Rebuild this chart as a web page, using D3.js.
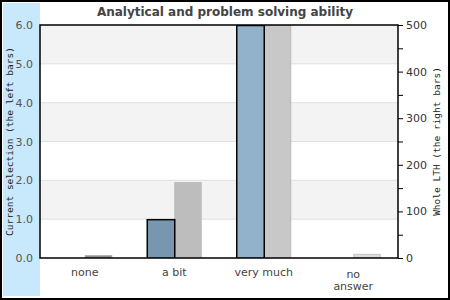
<!DOCTYPE html>
<html>
<head>
<meta charset="utf-8">
<script src="https://cdn.jsdelivr.net/npm/d3@7"></script>
<style>
  body { margin: 0; background: #fff; }
  svg { display: block; }
</style>
</head>
<body>
<div id="chart"></div>
<script>
// Data
var categories = ["none", "a bit", "very much", "no answer"];
var catLabels = [["none"], ["a bit"], ["very much"], ["no", "answer"]];
var currentValues = [0, 1, 6, 0];        // left bars, left axis
var lthValues = [6, 163, 500, 9];         // right bars, right axis
var leftTicks = [0, 1, 2, 3, 4, 5, 6];
var rightTicks = [0, 100, 200, 300, 400, 500];
var rightMinor = [50, 150, 250, 350, 450];

var leftColors = ["#7796b0", "#7796b0", "#92b2cc", "#92b2cc"];
var rightColors = ["#8a8a8a", "#bdbdbd", "#c8c8c8", "#dcdcdc"];
var rightStroke = ["#a8a8a8", "#bdbdbd", "#b8b8b8", "#c4c4c4"];

var W = 450, H = 300;
var margin = {top: 25, right: 52, bottom: 42, left: 40},
    width = W - margin.left - margin.right,
    height = H - margin.top - margin.bottom;

var svg = d3.select("#chart").append("svg")
    .attr("width", W)
    .attr("height", H);

// outer frame and blue strip
svg.append("rect")
    .attr("x", 3).attr("y", 3)
    .attr("width", 37).attr("height", 293)
    .attr("fill", "#c8e8fc");
svg.append("rect")
    .attr("x", 1).attr("y", 1)
    .attr("width", W - 2).attr("height", H - 2)
    .attr("fill", "none")
    .attr("stroke", "#000")
    .attr("stroke-width", 2);

// title
svg.append("text")
    .attr("x", 225).attr("y", 16)
    .attr("text-anchor", "middle")
    .attr("font-family", "DejaVu Sans")
    .attr("font-weight", "bold")
    .attr("font-size", "12px")
    .attr("fill", "#444")
    .text("Analytical and problem solving ability");

var g = svg.append("g")
    .attr("transform", "translate(" + margin.left + "," + margin.top + ")");

// scales
var x = d3.scaleBand()
    .domain(categories)
    .range([0, width]);
var yL = d3.scaleLinear().domain([0, 6]).range([height, 0]);
var yR = d3.scaleLinear().domain([0, 500]).range([height, 0]);
var barW = 27.5;

// alternating bands
g.selectAll(".band")
    .data(leftTicks.slice(0, -1))
    .enter().append("rect")
    .attr("x", 0)
    .attr("width", width)
    .attr("y", function(d) { return yL(d + 1); })
    .attr("height", function(d) { return yL(d) - yL(d + 1); })
    .attr("fill", function(d) { return d % 2 === 0 ? "#fff" : "#f3f3f3"; });

// gridlines
g.selectAll(".grid")
    .data(leftTicks.slice(1, -1))
    .enter().append("line")
    .attr("x1", 0).attr("x2", width)
    .attr("y1", function(d) { return yL(d); })
    .attr("y2", function(d) { return yL(d); })
    .attr("stroke", "#e0e0e0");

// clip for bars
svg.append("clipPath").attr("id", "plotclip")
  .append("rect").attr("width", width).attr("height", height);

var bars = g.append("g").attr("clip-path", "url(#plotclip)");

// right bars (whole LTH)
bars.selectAll(".rbar")
    .data(lthValues)
    .enter().append("rect")
    .attr("x", function(d, i) { return x(categories[i]) + x.bandwidth() / 2 + 0.5; })
    .attr("width", barW - 1)
    .attr("y", function(d) { return yR(d) + 0.5; })
    .attr("height", function(d) { return Math.max(0, height - yR(d) - 0.5); })
    .attr("fill", function(d, i) { return rightColors[i]; })
    .attr("stroke", function(d, i) { return rightStroke[i]; })
    .attr("stroke-width", 1);

// left bars (current selection)
bars.selectAll(".lbar")
    .data(currentValues.map(function(v, i) { return {v: v, i: i}; }).filter(function(d) { return d.v > 0; }))
    .enter().append("rect")
    .attr("x", function(d) { return x(categories[d.i]) + x.bandwidth() / 2 - barW + 0.5; })
    .attr("width", barW)
    .attr("y", function(d) { return yL(d.v) + 0.5; })
    .attr("height", function(d) { return height - yL(d.v); })
    .attr("fill", function(d) { return leftColors[d.i]; })
    .attr("stroke", "#000")
    .attr("stroke-width", 1.5);

// plot frame
g.append("rect")
    .attr("width", width).attr("height", height)
    .attr("fill", "none")
    .attr("stroke", "#000")
    .attr("stroke-width", 1.5);

// left axis labels
g.selectAll(".ltick")
    .data(leftTicks)
    .enter().append("text")
    .attr("x", -7)
    .attr("y", function(d) { return yL(d) + 4; })
    .attr("text-anchor", "end")
    .attr("font-family", "DejaVu Sans")
    .attr("font-size", "11px")
    .attr("fill", "#555")
    .text(d3.format(".1f"));

// right axis
var axisR = d3.axisRight(yR)
    .tickValues(rightTicks.concat(rightMinor))
    .tickSize(5)
    .tickPadding(3)
    .tickFormat(function(d) { return rightTicks.indexOf(d) >= 0 ? d : ""; });
var gr = g.append("g")
    .attr("transform", "translate(" + width + ",0)")
    .call(axisR);
gr.select(".domain").remove();
gr.selectAll("line").attr("stroke", "#000");
gr.selectAll("text")
    .attr("font-family", "DejaVu Sans")
    .attr("font-size", "11px")
    .attr("fill", "#333");

// x labels
catLabels.forEach(function(lines, i) {
  var t = g.append("text")
      .attr("text-anchor", "middle")
      .attr("font-family", "DejaVu Sans")
      .attr("font-size", "11px")
      .attr("fill", "#444");
  var y0 = lines.length > 1 ? height + 20 : height + 18;
  lines.forEach(function(s, j) {
    t.append("tspan")
        .attr("x", x(categories[i]) + x.bandwidth() / 2)
        .attr("y", y0 + j * 12)
        .text(s);
  });
});

// axis titles
svg.append("text")
    .attr("transform", "translate(13," + (margin.top + height / 2) + ") rotate(-90)")
    .attr("text-anchor", "middle")
    .attr("font-family", "DejaVu Sans Mono")
    .attr("font-size", "9.5px")
    .attr("fill", "#222")
    .text("Current selection (the left bars)");
svg.append("text")
    .attr("transform", "translate(440," + (margin.top + height / 2) + ") rotate(-90)")
    .attr("text-anchor", "middle")
    .attr("font-family", "DejaVu Sans Mono")
    .attr("font-size", "9.5px")
    .attr("fill", "#222")
    .text("Whole LTH (the right bars)");
</script>
</body>
</html>
